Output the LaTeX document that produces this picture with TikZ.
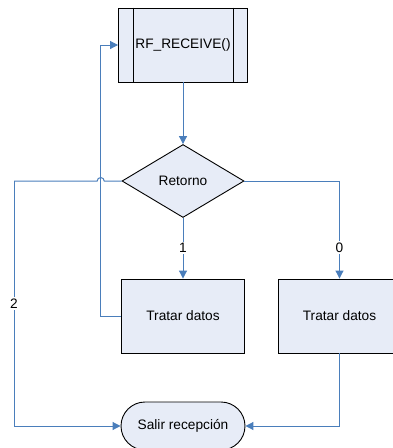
\documentclass[tikz,border=0pt]{standalone}
\usepackage{fontspec}
\setmainfont{Liberation Sans}
\usetikzlibrary{shapes.geometric,arrows.meta}
\definecolor{azul}{RGB}{74,126,187}
\definecolor{relleno}{RGB}{231,236,247}
\tikzset{
  caja/.style={draw=black,fill=relleno,line width=0.9pt,minimum width=123pt,minimum height=74pt,inner sep=0pt},
  rombo/.style={diamond,draw=black,fill=relleno,line width=0.9pt,minimum width=122pt,minimum height=73pt,inner sep=0pt},
  fin/.style={draw=black,fill=relleno,line width=0.9pt,rounded corners=24pt,minimum width=124pt,minimum height=48pt,inner sep=0pt},
  flecha/.style={draw=azul,line width=1pt,-{Triangle[length=8pt,width=8pt]}},
  linea/.style={draw=azul,line width=1pt},
  etiq/.style={fill=white,inner sep=1.5pt}
}
\begin{document}
\begin{tikzpicture}[x=1pt,y=-1pt,font=\fontsize{13.7}{16}\selectfont]
    \useasboundingbox (0,0) rectangle (393,448);
    % nodos
    \node[caja,minimum width=129pt] (rf) at (183,45) {RF\_RECEIVE()};
    \draw[line width=0.9pt] ([xshift=15pt]rf.north west)--([xshift=15pt]rf.south west);
    \draw[line width=0.9pt] ([xshift=-15pt]rf.north east)--([xshift=-15pt]rf.south east);
    \node[rombo] (ret) at (183,181) {Retorno};
    \node[caja] (t1) at (183,316) {Tratar datos};
    \node[caja] (t2) at (339.5,316) {Tratar datos};
    \node[fin] (salir) at (183,426) {Salir recepci\'on};
    \coordinate (vuelta) at (100.7,45);
    \coordinate (salto) at (100.7,181);
    \coordinate (izq) at (14,426);
    % conexiones
    \draw[flecha] (rf)--(ret);
    \draw[flecha] (ret)--node[etiq]{1}(t1);
    \draw[flecha] (ret.east)-|node[etiq,pos=0.84]{0}(t2.north);
    \draw[flecha] (t1.west)-|(vuelta)--(rf.west);
    \draw[linea] (ret.west)--([xshift=3.5pt]salto) arc[start angle=0,end angle=180,radius=3.5pt]--(izq|-ret.west);
    \draw[flecha] (izq|-ret.west)--node[etiq]{2}(izq)--(salir.west);
    \draw[flecha] (t2.south)|-(salir.east);
\end{tikzpicture}
\end{document}
